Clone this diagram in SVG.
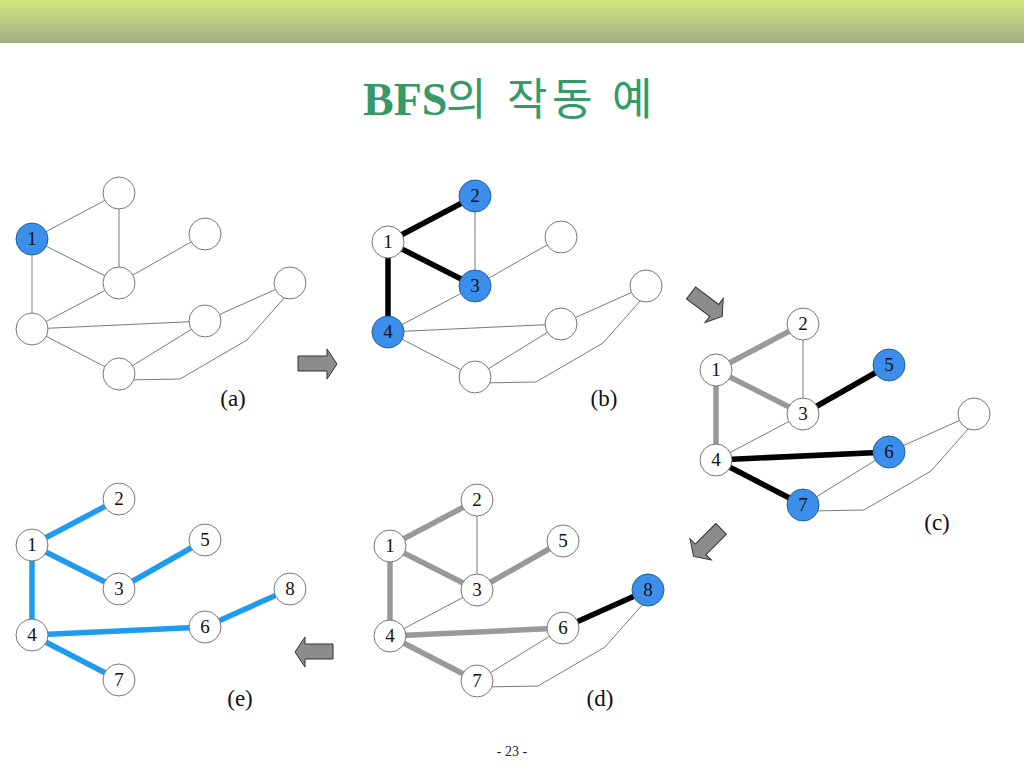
<svg xmlns="http://www.w3.org/2000/svg" width="1024" height="768" viewBox="0 0 1024 768">
<defs>
<linearGradient id="bar" x1="0" y1="0" x2="0" y2="1">
<stop offset="0" stop-color="#d1e77e"/>
<stop offset="1" stop-color="#a4ad88"/>
</linearGradient>
<polygon id="rarrow" points="-20,-7.5 9,-7.5 9,-15 19,0 9,15 9,7.5 -20,7.5"/>
</defs>
<style>
.n circle{fill:#fff;stroke:#777;stroke-width:1}
.b circle{fill:#3b8fea;stroke:#22609e;stroke-width:1}
.n text,.b text{font-family:"Liberation Serif",serif;font-size:19px;fill:#111;text-anchor:middle}
.e{stroke:#7a7a7a;stroke-width:1;fill:none}
.k{stroke:#000;stroke-width:5.5;fill:none}
.g{stroke:#999;stroke-width:5.5;fill:none}
.u{stroke:#1e9bef;stroke-width:5.5;fill:none}
.lab{font-family:"Liberation Serif",serif;font-size:23px;fill:#111;text-anchor:middle}
.arr{fill:#8c8c8c;stroke:#333;stroke-width:1}
</style>
<rect x="0" y="0" width="1024" height="43" fill="url(#bar)"/>
<text x="363" y="115" font-family="'Liberation Serif',serif" font-weight="bold" font-size="46" fill="#349a68">BFS<tspan font-family="'Noto Sans CJK KR',sans-serif" font-weight="normal" font-size="44" x="446">의</tspan><tspan font-family="'Noto Sans CJK KR',sans-serif" font-weight="normal" font-size="44" x="507">작</tspan><tspan font-family="'Noto Sans CJK KR',sans-serif" font-weight="normal" font-size="44" x="552">동</tspan><tspan font-family="'Noto Sans CJK KR',sans-serif" font-weight="normal" font-size="44" x="612">예</tspan></text>

<!-- Graph (a) -->
<g id="graph-a">
<g id="a-edges">
<line class="e" x1="32" y1="239" x2="119" y2="193"/>
<line class="e" x1="32" y1="239" x2="119" y2="283"/>
<line class="e" x1="32" y1="239" x2="32" y2="329"/>
<line class="e" x1="119" y1="193" x2="119" y2="283"/>
<line class="e" x1="119" y1="283" x2="205" y2="234"/>
<line class="e" x1="119" y1="283" x2="32" y2="329"/>
<line class="e" x1="32" y1="329" x2="205" y2="321"/>
<line class="e" x1="32" y1="329" x2="119" y2="374"/>
<line class="e" x1="119" y1="374" x2="205" y2="321"/>
<line class="e" x1="205" y1="321" x2="290" y2="283"/>
<polyline class="e" points="125,380 180,379 247,340 285,297"/>
</g>
<g id="a-n1" class="b"><circle cx="32" cy="239" r="16"/><text x="32" y="245">1</text></g>
<g id="a-n2" class="n"><circle cx="119" cy="193" r="16"/></g>
<g id="a-n3" class="n"><circle cx="119" cy="283" r="16"/></g>
<g id="a-n4" class="n"><circle cx="32" cy="329" r="16"/></g>
<g id="a-n5" class="n"><circle cx="205" cy="234" r="16"/></g>
<g id="a-n6" class="n"><circle cx="205" cy="321" r="16"/></g>
<g id="a-n7" class="n"><circle cx="119" cy="374" r="16"/></g>
<g id="a-n8" class="n"><circle cx="290" cy="283" r="16"/></g>
<text class="lab" x="233" y="406">(a)</text>
</g>

<!-- Graph (b) -->
<g id="graph-b" transform="translate(356,3)">
<g id="b-edges">
<line class="e" x1="119" y1="193" x2="119" y2="283"/>
<line class="e" x1="119" y1="283" x2="205" y2="234"/>
<line class="e" x1="119" y1="283" x2="32" y2="329"/>
<line class="e" x1="32" y1="329" x2="205" y2="321"/>
<line class="e" x1="32" y1="329" x2="119" y2="374"/>
<line class="e" x1="119" y1="374" x2="205" y2="321"/>
<line class="e" x1="205" y1="321" x2="290" y2="283"/>
<polyline class="e" points="125,380 180,379 247,340 285,297"/>
<line class="k" x1="32" y1="239" x2="119" y2="193"/>
<line class="k" x1="32" y1="239" x2="119" y2="283"/>
<line class="k" x1="32" y1="239" x2="32" y2="329"/>
</g>
<g id="b-n1" class="n"><circle cx="32" cy="239" r="16"/><text x="32" y="245">1</text></g>
<g id="b-n2" class="b"><circle cx="119" cy="193" r="16"/><text x="119" y="199">2</text></g>
<g id="b-n3" class="b"><circle cx="119" cy="283" r="16"/><text x="119" y="289">3</text></g>
<g id="b-n4" class="b"><circle cx="32" cy="329" r="16"/><text x="32" y="335">4</text></g>
<g id="b-n5" class="n"><circle cx="205" cy="234" r="16"/></g>
<g id="b-n6" class="n"><circle cx="205" cy="321" r="16"/></g>
<g id="b-n7" class="n"><circle cx="119" cy="374" r="16"/></g>
<g id="b-n8" class="n"><circle cx="290" cy="283" r="16"/></g>
<text class="lab" x="248" y="403">(b)</text>
</g>

<!-- Graph (c) -->
<g id="graph-c" transform="translate(684,131)">
<g id="c-edges">
<line class="e" x1="119" y1="193" x2="119" y2="283"/>
<line class="e" x1="119" y1="283" x2="32" y2="329"/>
<line class="e" x1="119" y1="374" x2="205" y2="321"/>
<line class="e" x1="205" y1="321" x2="290" y2="283"/>
<polyline class="e" points="125,380 180,379 247,340 285,297"/>
<line class="g" x1="32" y1="239" x2="119" y2="193"/>
<line class="g" x1="32" y1="239" x2="119" y2="283"/>
<line class="g" x1="32" y1="239" x2="32" y2="329"/>
<line class="k" x1="119" y1="283" x2="205" y2="234"/>
<line class="k" x1="32" y1="329" x2="205" y2="321"/>
<line class="k" x1="32" y1="329" x2="119" y2="374"/>
</g>
<g id="c-n1" class="n"><circle cx="32" cy="239" r="16"/><text x="32" y="245">1</text></g>
<g id="c-n2" class="n"><circle cx="119" cy="193" r="16"/><text x="119" y="199">2</text></g>
<g id="c-n3" class="n"><circle cx="119" cy="283" r="16"/><text x="119" y="289">3</text></g>
<g id="c-n4" class="n"><circle cx="32" cy="329" r="16"/><text x="32" y="335">4</text></g>
<g id="c-n5" class="b"><circle cx="205" cy="234" r="16"/><text x="205" y="240">5</text></g>
<g id="c-n6" class="b"><circle cx="205" cy="321" r="16"/><text x="205" y="327">6</text></g>
<g id="c-n7" class="b"><circle cx="119" cy="374" r="16"/><text x="119" y="380">7</text></g>
<g id="c-n8" class="n"><circle cx="290" cy="283" r="16"/></g>
<text class="lab" x="253" y="399">(c)</text>
</g>

<!-- Graph (d) -->
<g id="graph-d" transform="translate(358,307)">
<g id="d-edges">
<line class="e" x1="119" y1="193" x2="119" y2="283"/>
<line class="e" x1="119" y1="283" x2="32" y2="329"/>
<line class="e" x1="119" y1="374" x2="205" y2="321"/>
<polyline class="e" points="125,380 180,379 247,340 285,297"/>
<line class="g" x1="32" y1="239" x2="119" y2="193"/>
<line class="g" x1="32" y1="239" x2="119" y2="283"/>
<line class="g" x1="32" y1="239" x2="32" y2="329"/>
<line class="g" x1="119" y1="283" x2="205" y2="234"/>
<line class="g" x1="32" y1="329" x2="205" y2="321"/>
<line class="g" x1="32" y1="329" x2="119" y2="374"/>
<line class="k" x1="205" y1="321" x2="290" y2="283"/>
</g>
<g id="d-n1" class="n"><circle cx="32" cy="239" r="16"/><text x="32" y="245">1</text></g>
<g id="d-n2" class="n"><circle cx="119" cy="193" r="16"/><text x="119" y="199">2</text></g>
<g id="d-n3" class="n"><circle cx="119" cy="283" r="16"/><text x="119" y="289">3</text></g>
<g id="d-n4" class="n"><circle cx="32" cy="329" r="16"/><text x="32" y="335">4</text></g>
<g id="d-n5" class="n"><circle cx="205" cy="234" r="16"/><text x="205" y="240">5</text></g>
<g id="d-n6" class="n"><circle cx="205" cy="321" r="16"/><text x="205" y="327">6</text></g>
<g id="d-n7" class="n"><circle cx="119" cy="374" r="16"/><text x="119" y="380">7</text></g>
<g id="d-n8" class="b"><circle cx="290" cy="283" r="16"/><text x="290" y="289">8</text></g>
<text class="lab" x="242" y="399">(d)</text>
</g>

<!-- Graph (e) -->
<g id="graph-e" transform="translate(0,306)">
<g id="e-edges">
<line class="u" x1="32" y1="239" x2="119" y2="193"/>
<line class="u" x1="32" y1="239" x2="119" y2="283"/>
<line class="u" x1="32" y1="239" x2="32" y2="329"/>
<line class="u" x1="119" y1="283" x2="205" y2="234"/>
<line class="u" x1="32" y1="329" x2="205" y2="321"/>
<line class="u" x1="32" y1="329" x2="119" y2="374"/>
<line class="u" x1="205" y1="321" x2="290" y2="283"/>
</g>
<g id="e-n1" class="n"><circle cx="32" cy="239" r="16"/><text x="32" y="245">1</text></g>
<g id="e-n2" class="n"><circle cx="119" cy="193" r="16"/><text x="119" y="199">2</text></g>
<g id="e-n3" class="n"><circle cx="119" cy="283" r="16"/><text x="119" y="289">3</text></g>
<g id="e-n4" class="n"><circle cx="32" cy="329" r="16"/><text x="32" y="335">4</text></g>
<g id="e-n5" class="n"><circle cx="205" cy="234" r="16"/><text x="205" y="240">5</text></g>
<g id="e-n6" class="n"><circle cx="205" cy="321" r="16"/><text x="205" y="327">6</text></g>
<g id="e-n7" class="n"><circle cx="119" cy="374" r="16"/><text x="119" y="380">7</text></g>
<g id="e-n8" class="n"><circle cx="290" cy="283" r="16"/><text x="290" y="289">8</text></g>
<text class="lab" x="240" y="400">(e)</text>
</g>

<!-- step arrows -->
<g id="step-arrows">
<polygon class="arr" points="298,356 327,356 327,349 337,364 327,379 327,371 298,371"/>
<use href="#rarrow" class="arr" transform="translate(707,305) rotate(37)"/>
<use href="#rarrow" class="arr" transform="translate(707,543) rotate(135)"/>
<polygon class="arr" points="295,652 305,637 305,644 333,644 333,659 305,659 305,667"/>
</g>

<text x="512" y="756" font-family="'Liberation Serif',serif" font-size="14" fill="#222" text-anchor="middle">- 23 -</text>
</svg>
